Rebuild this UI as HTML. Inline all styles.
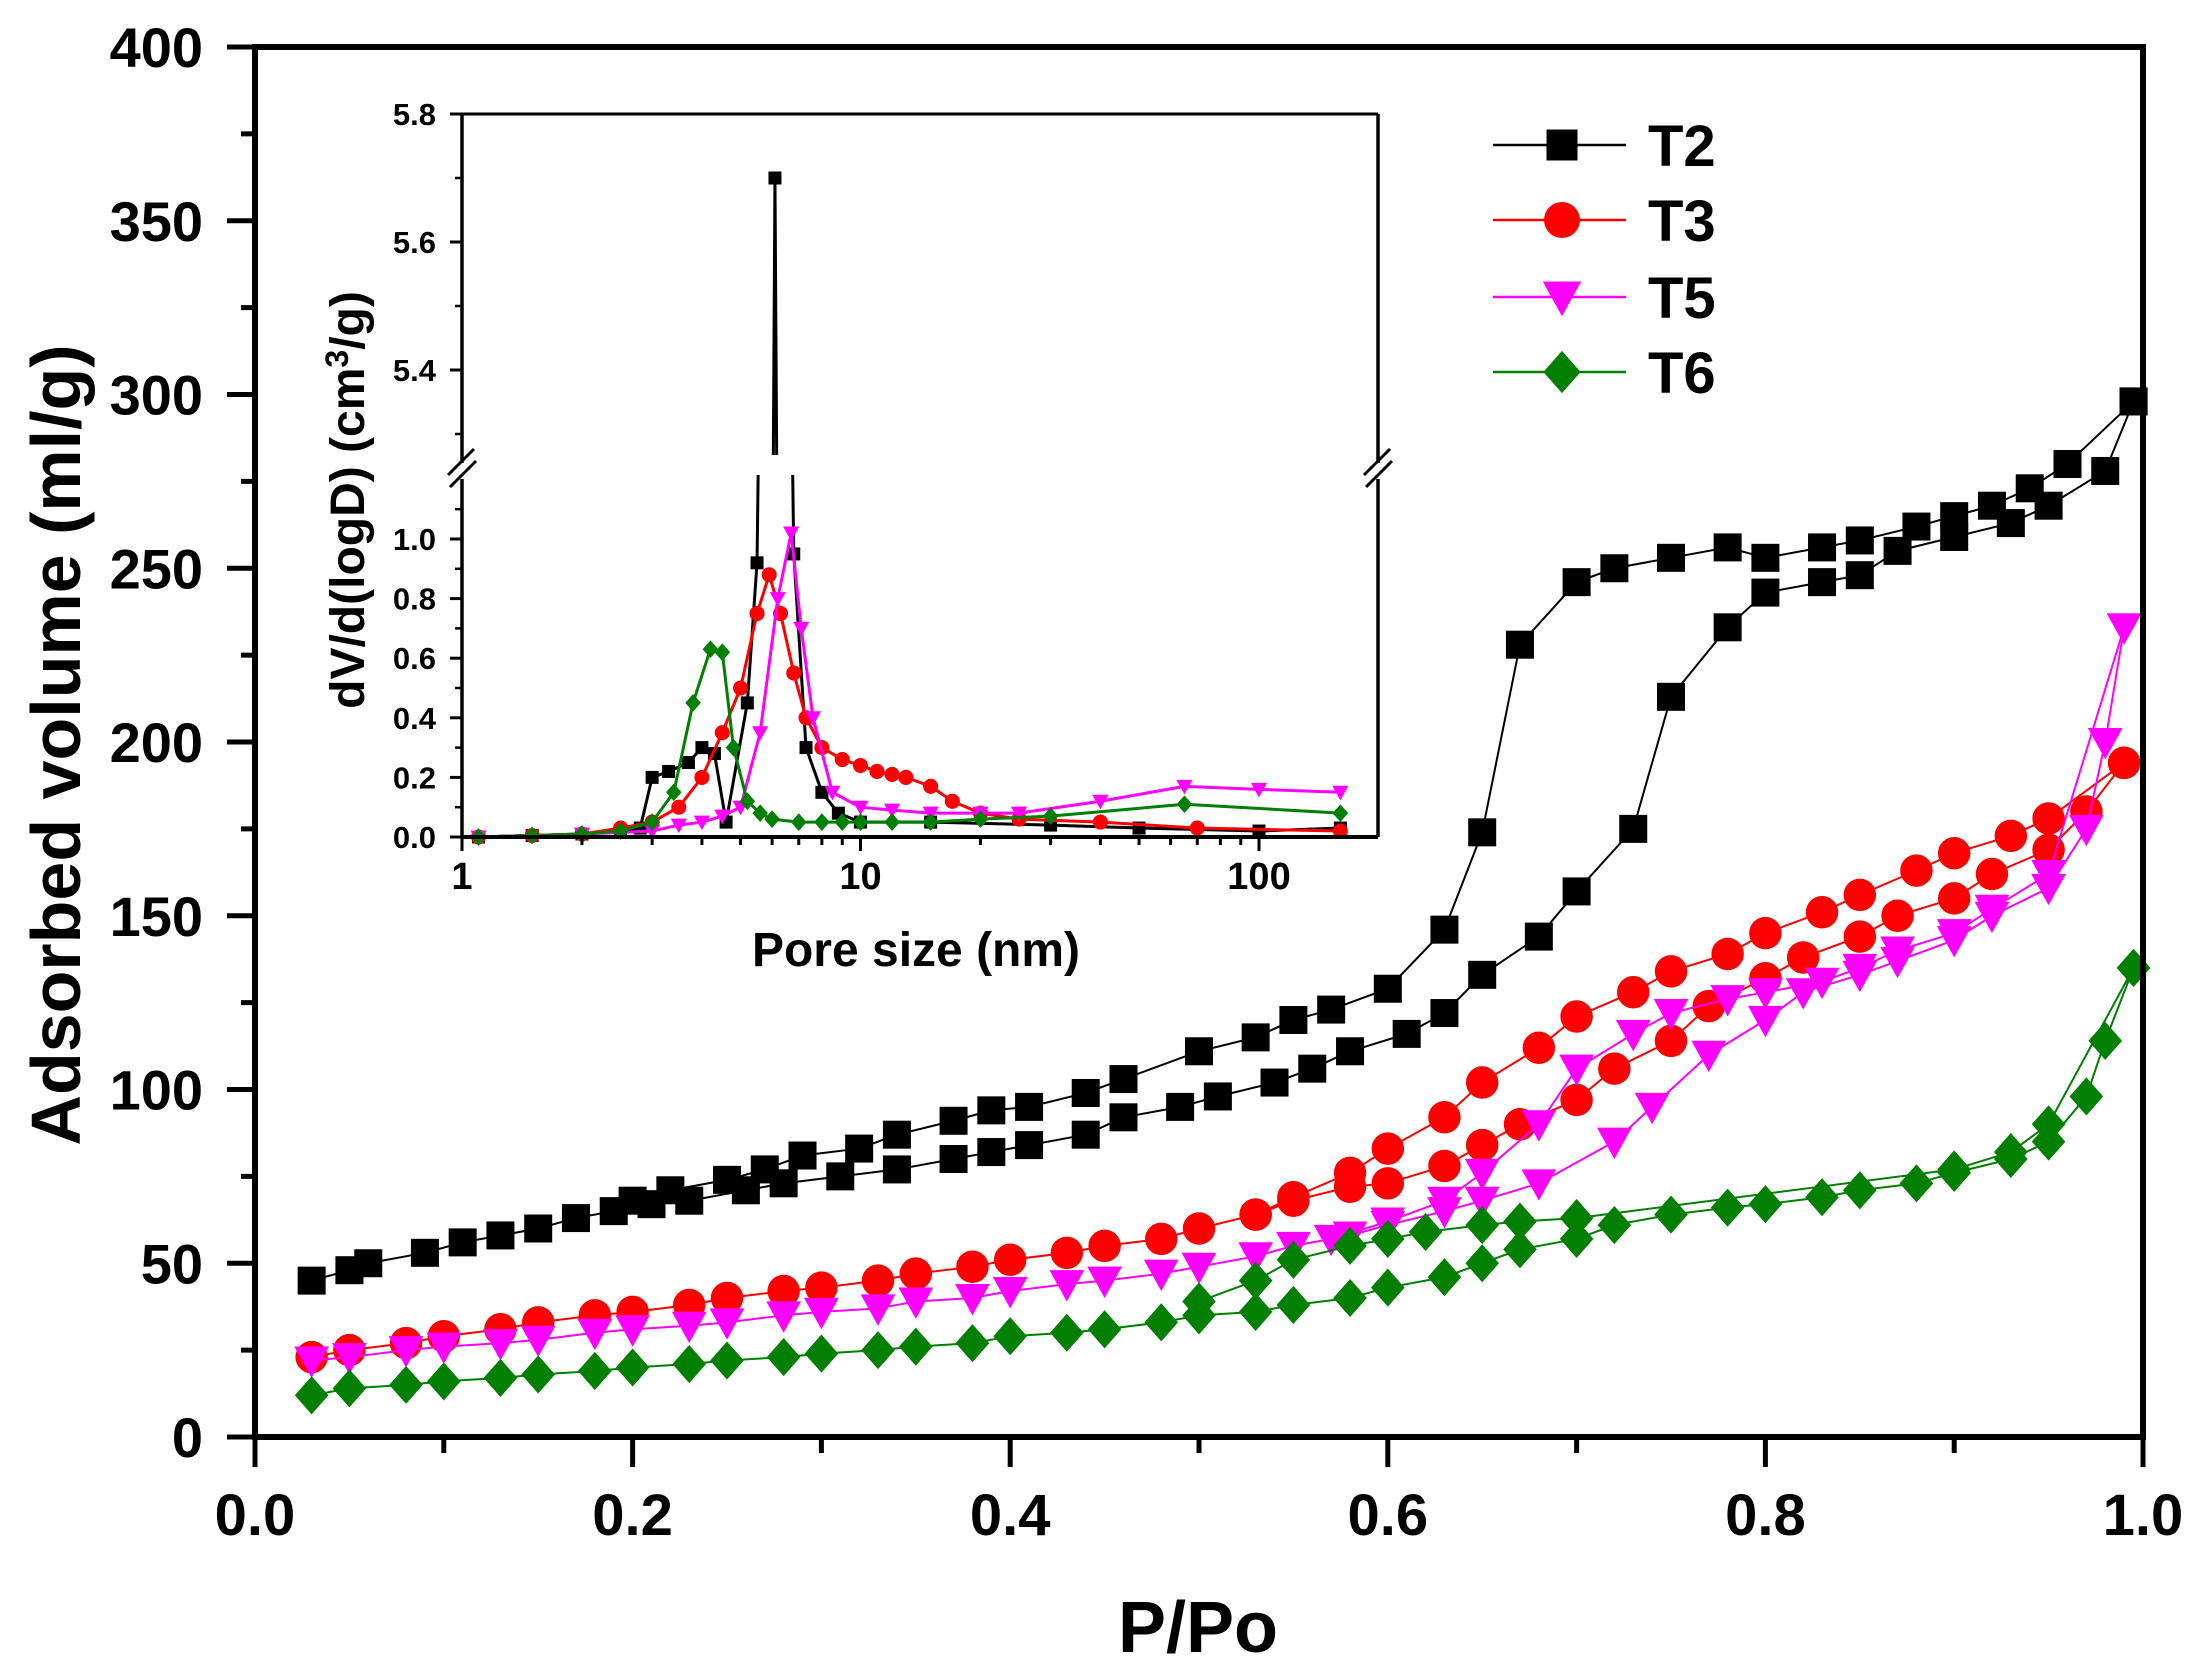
<!DOCTYPE html>
<html><head><meta charset="utf-8"><style>
html,body{margin:0;padding:0;background:#fff;overflow:hidden;width:2200px;height:1675px;}
svg{display:block;font-family:"Liberation Sans",Arial,sans-serif;}
</style></head><body>
<svg id="chart" width="2200" height="1675" viewBox="0 0 2200 1675" xmlns="http://www.w3.org/2000/svg">
<g id="main"></g>
<g id="inset"></g>
<g id="legend"></g>
</svg>
<script>
// ---------- main chart data ----------
const seriesNames = ["T2","T3","T5","T6"];
const seriesColors = ["#000000","#ff0000","#ff00ff","#007f00"];
const seriesShapes = ["square","circle","tri","diamond"];
const xTicks = [0.0,0.2,0.4,0.6,0.8,1.0];
const xTickLabels = ["0.0","0.2","0.4","0.6","0.8","1.0"];
const yTicks = [0,50,100,150,200,250,300,350,400];

const t2AdsX = [0.03,0.05,0.06,0.09,0.11,0.13,0.15,0.17,0.19,0.21,0.23,0.26,0.28,0.31,0.34,0.37,0.39,0.41,0.44,0.46,0.49,0.51,0.54,0.56,0.58,0.61,0.63,0.65,0.68,0.70,0.73,0.75,0.78,0.80,0.83,0.85,0.87,0.90,0.93,0.95,0.98,0.995];
const t2AdsY = [45,48,50,53,56,58,60,63,65,67,68,71,73,75,77,80,82,84,87,92,95,98,102,106,111,116,122,133,144,157,175,213,233,243,246,248,255,259,263,268,278,298];
const t2DesX = [0.995,0.96,0.94,0.92,0.90,0.88,0.85,0.83,0.80,0.78,0.75,0.72,0.70,0.67,0.65,0.63,0.60,0.57,0.55,0.53,0.50,0.46,0.44,0.41,0.39,0.37,0.34,0.32,0.29,0.27,0.25,0.22,0.20];
const t2DesY = [298,280,273,268,265,262,258,256,253,256,253,250,246,228,174,146,129,123,120,115,111,103,99,95,94,91,87,83,81,77,74,71,68];

const t3AdsX = [0.03,0.05,0.08,0.10,0.13,0.15,0.18,0.20,0.23,0.25,0.28,0.30,0.33,0.35,0.38,0.40,0.43,0.45,0.48,0.50,0.53,0.55,0.58,0.60,0.63,0.65,0.67,0.70,0.72,0.75,0.77,0.80,0.82,0.85,0.87,0.90,0.92,0.95,0.97,0.99];
const t3AdsY = [23,25,27,29,31,33,35,36,38,40,42,43,45,47,49,51,53,55,57,60,64,68,72,73,78,84,90,97,106,114,124,132,138,144,150,155,162,169,180,194];
const t3DesX = [0.99,0.95,0.93,0.90,0.88,0.85,0.83,0.80,0.78,0.75,0.73,0.70,0.68,0.65,0.63,0.60,0.58,0.55,0.53];
const t3DesY = [194,178,173,168,163,156,151,145,139,134,128,121,112,102,92,83,76,69,64];

const t5AdsX = [0.03,0.05,0.08,0.10,0.13,0.15,0.18,0.20,0.23,0.25,0.28,0.30,0.33,0.35,0.38,0.40,0.43,0.45,0.48,0.50,0.53,0.55,0.58,0.60,0.63,0.65,0.68,0.72,0.74,0.77,0.80,0.82,0.85,0.87,0.90,0.92,0.95,0.97,0.98,0.99];
const t5AdsY = [22,23,25,26,27,28,30,31,32,33,35,36,37,39,40,42,44,45,47,49,52,55,58,61,65,68,73,85,95,110,120,128,133,137,143,150,158,175,200,233];
const t5DesX = [0.99,0.95,0.92,0.90,0.87,0.85,0.83,0.80,0.78,0.75,0.73,0.70,0.68,0.65,0.63,0.60,0.57];
const t5DesY = [233,162,152,145,140,135,131,128,126,122,116,106,90,76,68,62,57];

const t6AdsX = [0.03,0.05,0.08,0.10,0.13,0.15,0.18,0.20,0.23,0.25,0.28,0.30,0.33,0.35,0.38,0.40,0.43,0.45,0.48,0.50,0.53,0.55,0.58,0.60,0.63,0.65,0.67,0.70,0.72,0.75,0.78,0.80,0.83,0.85,0.88,0.90,0.93,0.95,0.97,0.98,0.995];
const t6AdsY = [12,14,15,16,17,18,19,20,21,22,23,24,25,26,27,29,30,31,33,35,36,38,40,43,46,50,54,57,61,64,66,67,69,71,73,76,80,85,98,114,135];
const t6DesX = [0.995,0.95,0.93,0.90,0.70,0.67,0.65,0.62,0.60,0.58,0.55,0.53,0.50];
const t6DesY = [135,90,82,77,63,62,61,59,57,55,51,45,39];

// ---------- inset data ----------
const insetXTicks = [1,10,100];
const insetLowTicks = [0.0,0.2,0.4,0.6,0.8,1.0];
const insetHighTicks = [5.4,5.6,5.8];
const i2X = [1.1,1.5,2,2.5,2.8,3.0,3.3,3.7,4.0,4.3,4.6,5.2,5.5,6.1,6.8,7.3,8,8.8,10,15,30,50,100,160];
const i2Y = [0,0.005,0.01,0.02,0.03,0.2,0.22,0.25,0.3,0.28,0.05,0.45,0.92,5.7,0.95,0.3,0.15,0.08,0.05,0.05,0.04,0.03,0.02,0.03];
const i3X = [1.1,1.5,2,2.5,3,3.5,4,4.5,5,5.5,5.9,6.3,6.8,7.3,8,9,10,11,12,13,15,17,20,25,40,70,160];
const i3Y = [0,0.005,0.01,0.03,0.05,0.1,0.2,0.35,0.5,0.75,0.88,0.75,0.55,0.4,0.3,0.26,0.24,0.22,0.21,0.2,0.17,0.12,0.08,0.06,0.05,0.03,0.02];
const i5X = [1.1,2,3,3.5,4,4.5,5,5.6,6.2,6.7,7.1,7.6,8.5,10,12,15,20,25,40,65,100,160];
const i5Y = [0,0.01,0.02,0.04,0.05,0.07,0.1,0.35,0.8,1.02,0.7,0.4,0.15,0.1,0.09,0.08,0.08,0.08,0.12,0.17,0.16,0.15];
const i6X = [1.1,1.5,2,2.5,3,3.4,3.8,4.2,4.5,4.8,5.2,5.6,6,7,8,9,10,12,15,20,30,65,160];
const i6Y = [0,0.005,0.01,0.02,0.05,0.15,0.45,0.63,0.62,0.3,0.12,0.08,0.06,0.05,0.05,0.05,0.05,0.05,0.05,0.06,0.07,0.11,0.08];

// ---------- helpers ----------
const NS="http://www.w3.org/2000/svg";
function mk(tag,attrs,parent){const e=document.createElementNS(NS,tag);for(const k in attrs)e.setAttribute(k,attrs[k]);parent.appendChild(e);return e;}
function marker(shape,cx,cy,s,color,parent){
  let e;
  if(shape==="square") e=mk("rect",{x:cx-s/2,y:cy-s/2,width:s,height:s,fill:color},parent);
  else if(shape==="circle") e=mk("circle",{cx:cx,cy:cy,r:s*0.58,fill:color},parent);
  else if(shape==="tri") e=mk("polygon",{points:`${cx-s*0.62},${cy-s*0.5} ${cx+s*0.62},${cy-s*0.5} ${cx},${cy+s*0.62}`,fill:color},parent);
  else e=mk("polygon",{points:`${cx},${cy-s*0.68} ${cx+s*0.6},${cy} ${cx},${cy+s*0.68} ${cx-s*0.6},${cy}`,fill:color},parent);
  return e;
}

// ---------- main ----------
const L=255,R=2143,T=47,B=1437;
const sx=v=>L+(v-0)/(1-0)*(R-L);
const sy=v=>B-(v/400)*(B-T);
const main=document.getElementById("main");
const series=[[t2AdsX,t2AdsY,t2DesX,t2DesY],[t3AdsX,t3AdsY,t3DesX,t3DesY],[t5AdsX,t5AdsY,t5DesX,t5DesY],[t6AdsX,t6AdsY,t6DesX,t6DesY]];
series.forEach((s,i)=>{
  const g=mk("g",{},main);
  
  
  [[s[0],s[1]],[s[2],s[3]]].forEach(([xs,ys])=>{
    const pts=xs.map((x,j)=>sx(x)+","+sy(ys[j])).join(" ");
    const pl=mk("polyline",{points:pts,fill:"none",stroke:seriesColors[i],"stroke-width":2},g);
    
    
    xs.forEach((x,j)=>{
      const m=marker(seriesShapes[i],sx(x),sy(ys[j]),28,seriesColors[i],g);
      
      
    });
  });
});
const fr=mk("rect",{x:L,y:T,width:R-L,height:B-T,fill:"none",stroke:"#000","stroke-width":6},main);


for(let v=0;v<=10;v++){const x=sx(v/10);mk("line",{x1:x,y1:B,x2:x,y2:B+(v%2===0?30:16),stroke:"#000","stroke-width":5},main);}
xTicks.forEach((v,i)=>{
  const t=mk("text",{x:sx(v),y:1535,"text-anchor":"middle","font-size":58,"font-weight":"bold"},main);
  t.textContent=xTickLabels[i];
  
  
});
for(let v=0;v<=400;v+=25){const y=sy(v);mk("line",{x1:L,y1:y,x2:L-(v%50===0?28:14),y2:y,stroke:"#000","stroke-width":5},main);}
yTicks.forEach(v=>{
  const t=mk("text",{x:203,y:sy(v)+20,"text-anchor":"end","font-size":56,"font-weight":"bold"},main);
  t.textContent=String(v);
  
  
});
const xt=mk("text",{x:1198,y:1652,"text-anchor":"middle","font-size":72,"font-weight":"bold"},main);
xt.textContent="P/Po";


const yt=mk("text",{x:0,y:0,"text-anchor":"middle","font-size":70,"font-weight":"bold",transform:"translate(80,745) rotate(-90)"},main);
yt.textContent="Adsorbed volume (ml/g)";



// ---------- inset ----------
const iL=462,iR=1378,iT=114,iB=837,iBreak=471;
const ix=v=>iL+Math.log10(v)*((1257-460)/2);
const iyLow=v=>iB-v*298;
const iyHigh=v=>iT+(5.8-v)*640;
const inset=document.getElementById("inset");
const defs=mk("defs",{},inset);
const c1=mk("clipPath",{id:"clipLow"},defs);mk("rect",{x:iL,y:iBreak+4,width:iR-iL,height:iB-iBreak+10},c1);
const c2=mk("clipPath",{id:"clipHigh"},defs);mk("rect",{x:iL,y:iT-10,width:iR-iL,height:iBreak-iT-6},c2);
const iSeries=[[i2X,i2Y],[i3X,i3Y],[i5X,i5Y],[i6X,i6Y]];
[["clipLow",iyLow],["clipHigh",iyHigh]].forEach(([cid,fy])=>{
  const g=mk("g",{"clip-path":`url(#${cid})`},inset);
  iSeries.forEach(([xs,ys],i)=>{
    const pts=xs.map((x,j)=>ix(x)+","+fy(ys[j])).join(" ");
    const pl=mk("polyline",{points:pts,fill:"none",stroke:seriesColors[i],"stroke-width":3},g);
    
    
    xs.forEach((x,j)=>{
      const m=marker(seriesShapes[i],ix(x),fy(ys[j]),13,seriesColors[i],g);
      
      
    });
  });
});
mk("line",{x1:iL,y1:iT,x2:iR,y2:iT,stroke:"#000","stroke-width":3},inset);
mk("line",{x1:iL,y1:iB,x2:iR,y2:iB,stroke:"#000","stroke-width":4},inset);
mk("line",{x1:iL,y1:iT,x2:iL,y2:iBreak-8,stroke:"#000","stroke-width":3.5},inset);
mk("line",{x1:iL,y1:iBreak+8,x2:iL,y2:iB,stroke:"#000","stroke-width":3.5},inset);
mk("line",{x1:iR,y1:iT,x2:iR,y2:iBreak-8,stroke:"#000","stroke-width":3.5},inset);
mk("line",{x1:iR,y1:iBreak+8,x2:iR,y2:iB,stroke:"#000","stroke-width":3.5},inset);
[iL,iR].forEach(x=>{
  mk("line",{x1:x-14,y1:iBreak+4,x2:x+12,y2:iBreak-22,stroke:"#000","stroke-width":3},inset);
  mk("line",{x1:x-12,y1:iBreak+16,x2:x+14,y2:iBreak-10,stroke:"#000","stroke-width":3},inset);
});
insetLowTicks.forEach(v=>{
  mk("line",{x1:iL,y1:iyLow(v),x2:iL-12,y2:iyLow(v),stroke:"#000","stroke-width":3},inset);
  mk("line",{x1:iL,y1:iyLow(v+0.1),x2:iL-7,y2:iyLow(v+0.1),stroke:"#000","stroke-width":2.5},inset);
  const t=mk("text",{x:436,y:iyLow(v)+11,"text-anchor":"end","font-size":31,"font-weight":"bold"},inset);
  t.textContent=v.toFixed(1);
  
  
});
insetHighTicks.forEach(v=>{
  mk("line",{x1:iL,y1:iyHigh(v),x2:iL-12,y2:iyHigh(v),stroke:"#000","stroke-width":3},inset);
  mk("line",{x1:iL,y1:iyHigh(v-0.1),x2:iL-7,y2:iyHigh(v-0.1),stroke:"#000","stroke-width":2.5},inset);
  const t=mk("text",{x:436,y:iyHigh(v)+11,"text-anchor":"end","font-size":31,"font-weight":"bold"},inset);
  t.textContent=v.toFixed(1);
  
  
});
for(let d=0;d<3;d++){for(let k=1;k<=9;k++){const v=Math.pow(10,d)*k;if(ix(v)>iR)break;
  mk("line",{x1:ix(v),y1:iB,x2:ix(v),y2:iB+(k===1?14:8),stroke:"#000","stroke-width":3},inset);}}
insetXTicks.forEach(v=>{
  const t=mk("text",{x:ix(v),y:889,"text-anchor":"middle","font-size":38,"font-weight":"bold"},inset);
  t.textContent=String(v);
  
  
});
const ixt=mk("text",{x:916,y:966,"text-anchor":"middle","font-size":48,"font-weight":"bold"},inset);
ixt.textContent="Pore size (nm)";


const iyt=mk("text",{x:0,y:0,"text-anchor":"middle","font-size":48,"font-weight":"bold",transform:"translate(364,500) rotate(-90)"},inset);
iyt.innerHTML='dV/d(logD) (cm<tspan dy="-16" font-size="32">3</tspan><tspan dy="16">/g)</tspan>';



// ---------- legend ----------
const lg=document.getElementById("legend");
const legendY=[145,220,297,372];
seriesNames.forEach((n,i)=>{
  const g=mk("g",{},lg);
  
  
  mk("line",{x1:1493,y1:legendY[i],x2:1626,y2:legendY[i],stroke:seriesColors[i],"stroke-width":2.5},g);
  marker(seriesShapes[i],1562,legendY[i],31,seriesColors[i],g);
  const t=mk("text",{x:1648,y:legendY[i]+21,"font-size":58,"font-weight":"bold"},g);
  t.textContent=n;
});
</script>
</body></html>
